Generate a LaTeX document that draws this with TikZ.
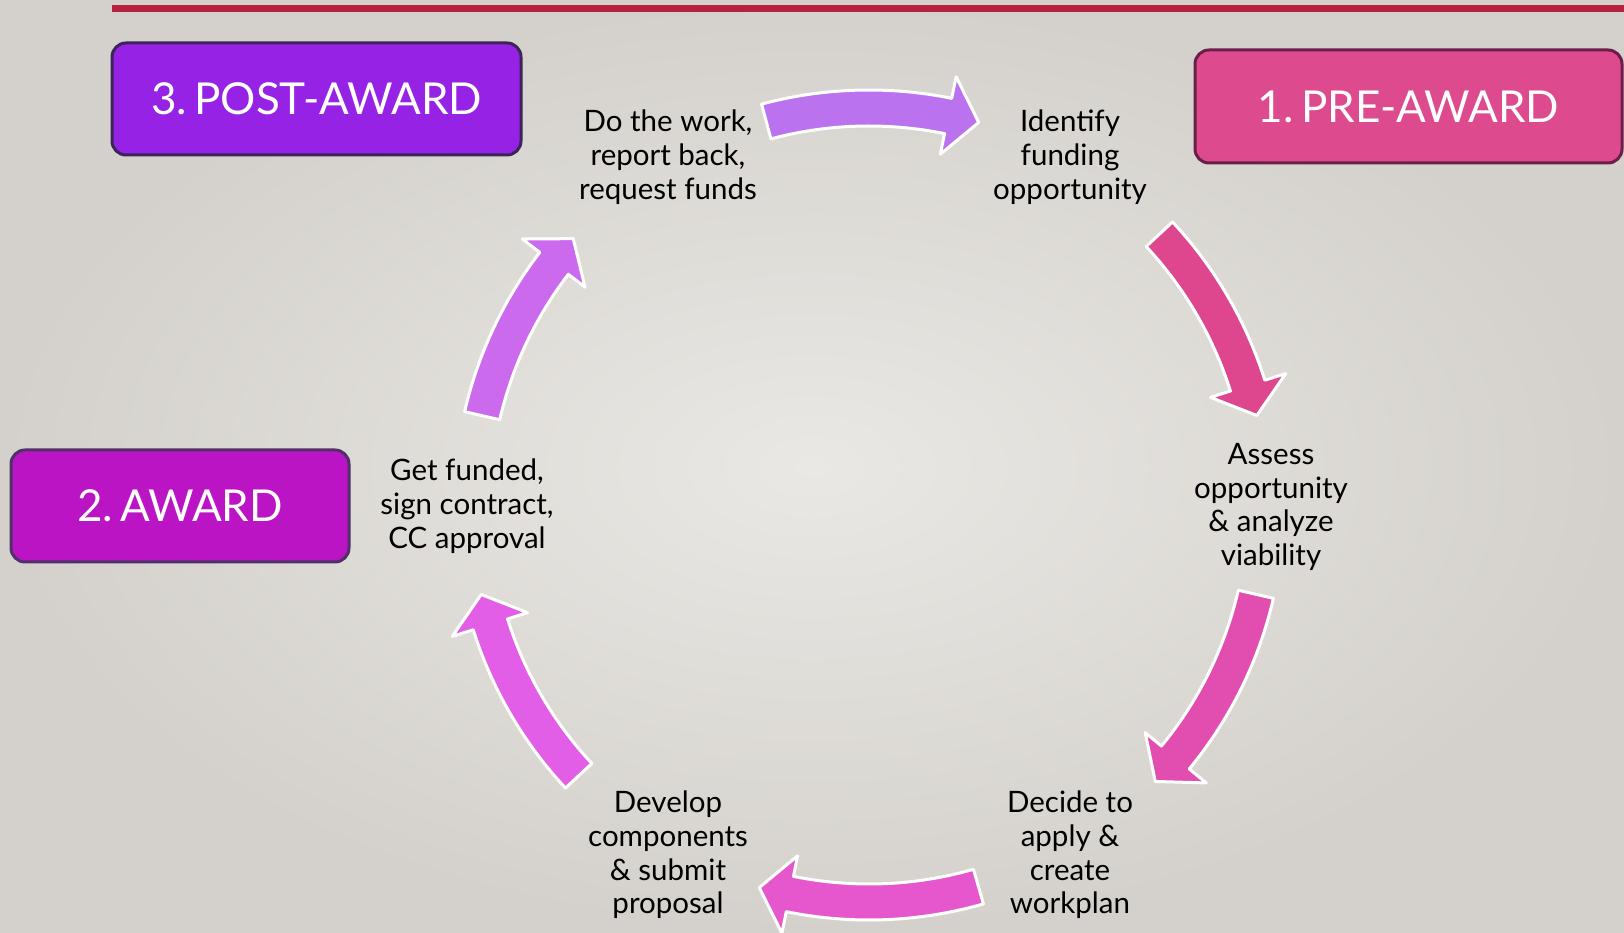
\documentclass[tikz,border=0pt]{standalone}
\usepackage{fontspec}
\setmainfont{Lato}
\definecolor{bglight}{HTML}{EAE8E4}
\definecolor{bgdark}{HTML}{D4D1CC}
\definecolor{topline}{HTML}{B82040}
\definecolor{preaward}{HTML}{DE4A8E}
\definecolor{preawardedge}{HTML}{6A1E48}
\definecolor{award}{HTML}{BA14C4}
\definecolor{awardedge}{HTML}{50306A}
\definecolor{postaward}{HTML}{9622E6}
\definecolor{postawardedge}{HTML}{3A2458}
\definecolor{arrowtop}{HTML}{BB72EE}
\definecolor{arrowrighttop}{HTML}{DE468E}
\definecolor{arrowrightbot}{HTML}{E24EB0}
\definecolor{arrowbot}{HTML}{E656CC}
\definecolor{arrowleftbot}{HTML}{E35EE6}
\definecolor{arrowlefttop}{HTML}{CC6AEE}
\tikzset{
  phasebox/.style={draw, line width=3pt, rounded corners=14pt, text=white,
    font=\fontsize{44}{50}\selectfont, inner sep=0pt},
  steplabel/.style={align=center, font=\fontsize{29.5}{33.7}\selectfont, text=black},
  cyclearrow/.style={draw=white, line width=3pt, line join=round},
}
\begin{document}
\begin{tikzpicture}[x=1pt,y=1pt]
	\useasboundingbox (0,0) rectangle (1624,933);
	\shade[inner color=bglight, outer color=bgdark] (0,0) rectangle (1624,933);
	\fill[topline] (112,920.5) rectangle (1624,928);
	% phase boxes
	\node[phasebox, fill=preaward, draw=preawardedge, minimum width=427, minimum height=113] (preaward) at (1408.5,826.5) {1.\,PRE-AWARD};
	\node[phasebox, fill=award, draw=awardedge, minimum width=338, minimum height=112] (award) at (180,427) {2.\,AWARD};
	\node[phasebox, fill=postaward, draw=postawardedge, minimum width=409, minimum height=112] (postaward) at (316.5,834) {3.\,POST-AWARD};
	% steps of the cycle
	\coordinate (hub) at (869,428);
	\node[steplabel] (identify) at (1070,776) {Identify\\funding\\opportunity};
	\node[steplabel] (assess) at (1271,426) {Assess\\opportunity\\\& analyze\\viability};
	\node[steplabel] (decide) at (1070,78) {Decide to\\apply \&\\create\\workplan};
	\node[steplabel] (develop) at (668,78) {Develop\\components\\\& submit\\proposal};
	\node[steplabel] (funded) at (467,427) {Get funded,\\sign contract,\\CC approval};
	\node[steplabel] (dowork) at (668,776) {Do the work,\\report back,\\request funds};
	% curved arrows round the hub
	\begin{scope}[shift={(hub)}]
		\filldraw[cyclearrow, fill=arrowtop] (105:415) arc[start angle=105, end angle=78.5, radius=415pt] -- (78.5:437) -- (74:398) -- (78.5:358) -- (78.5:379) arc[start angle=78.5, end angle=105, radius=379pt] -- cycle;
		\filldraw[cyclearrow, fill=arrowrighttop] (43:415) arc[start angle=43, end angle=17.5, radius=415pt] -- (17.5:437) -- (13:398) -- (17.5:358) -- (17.5:379) arc[start angle=17.5, end angle=43, radius=379pt] -- cycle;
		\filldraw[cyclearrow, fill=arrowrightbot] (-13:415) arc[start angle=-13, end angle=-39.5, radius=415pt] -- (-39.5:437) -- (-44:398) -- (-39.5:358) -- (-39.5:379) arc[start angle=-39.5, end angle=-13, radius=379pt] -- cycle;
		\filldraw[cyclearrow, fill=arrowbot] (-74:415) arc[start angle=-74, end angle=-101.5, radius=415pt] -- (-101.5:437) -- (-106:398) -- (-101.5:358) -- (-101.5:379) arc[start angle=-101.5, end angle=-74, radius=379pt] -- cycle;
		\filldraw[cyclearrow, fill=arrowleftbot] (-137:415) arc[start angle=-137, end angle=-162.5, radius=415pt] -- (-162.5:437) -- (-167:398) -- (-162.5:358) -- (-162.5:379) arc[start angle=-162.5, end angle=-137, radius=379pt] -- cycle;
		\filldraw[cyclearrow, fill=arrowlefttop] (167:415) arc[start angle=167, end angle=142.5, radius=415pt] -- (142.5:437) -- (138:398) -- (142.5:358) -- (142.5:379) arc[start angle=142.5, end angle=167, radius=379pt] -- cycle;
	\end{scope}
\end{tikzpicture}
\end{document}
